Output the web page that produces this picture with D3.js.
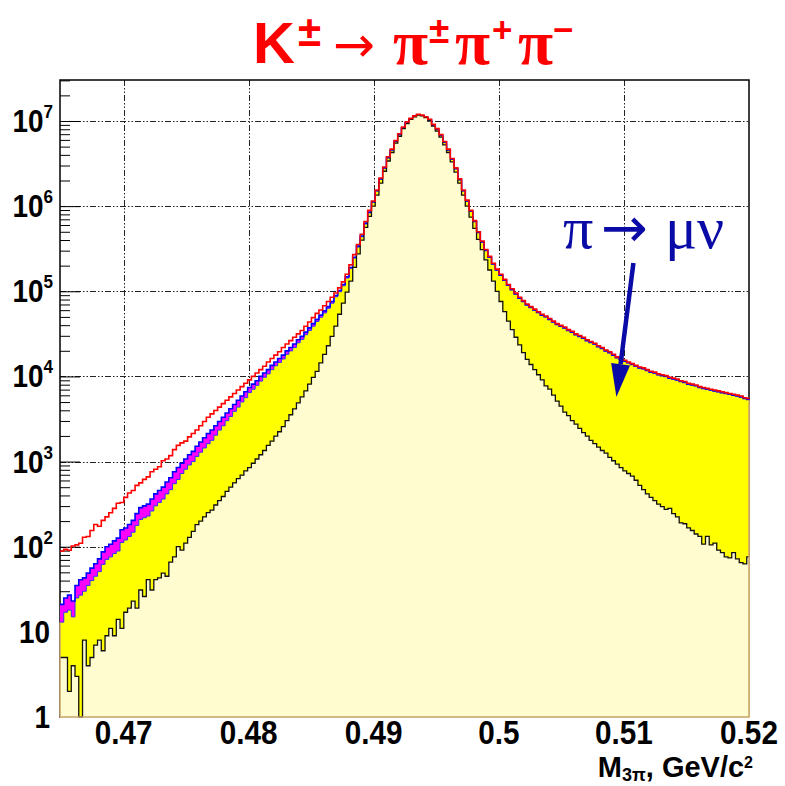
<!DOCTYPE html>
<html>
<head>
<meta charset="utf-8">
<script src="https://cdn.jsdelivr.net/npm/d3@7"></script>
<style>
  body { margin: 0; background: #fff; }
  svg { display: block; }
</style>
</head>
<body>
<div id="grafico"></div>
<script>
// Bins do histograma de M(3pi), GeV/c^2
const inicioBins = 0.46492;
const larguraBin = 0.0003;

// Dados (linha vermelha), contagem por bin
const dadosK3pi = [
  89, 93, 91, 102, 105, 110, 129, 132, 155, 182,
  174, 204, 224, 251, 282, 324, 331, 380, 427, 457,
  525, 562, 617, 661, 759, 813, 871, 1023, 1072, 1175,
  1380, 1549, 1660, 1738, 1950, 2138, 2344, 2630, 2951, 3311,
  3631, 3981, 4365, 4786, 5248, 5754, 6310, 6918, 7586, 8318,
  9120, 10000, 10960, 12020, 13180, 14790, 16220, 17780, 19500, 21880,
  23990, 26300, 28840, 31620, 34670, 38900, 43650, 48980, 54950, 60260,
  67610, 75860, 85110, 95500, 109600, 128800, 158500, 204200, 269200, 354800,
  467700, 660700, 891300, 1148000, 1549000, 2138000, 2884000, 3802000, 4677000, 5888000,
  7079000, 8511000, 9772000, 10720000, 11480000, 12020000, 11750000, 11220000, 10470000, 9120000,
  8128000, 6918000, 5754000, 4677000, 3631000, 2818000, 2089000, 1549000, 1175000, 891300,
  676100, 501200, 389000, 309000, 257000, 213800, 182000, 158500, 138000, 120200,
  107200, 95500, 85110, 77620, 70790, 66070, 61660, 57540, 53700, 51290,
  47860, 44670, 41690, 39810, 38020, 35480, 33880, 31620, 30200, 28840,
  26920, 25700, 24550, 22910, 21880, 20420, 19500, 18200, 16980, 16220,
  15490, 14790, 14130, 13490, 12880, 12590, 12020, 11480, 11220, 10720,
  10470, 10230, 9772, 9550, 9333, 8913, 8710, 8318, 8128, 7943,
  7586, 7413, 7244, 7079, 6918, 6761, 6607, 6457, 6310, 6166,
  6026, 5888, 5623, 5495
];

// MC total (contorno azul, magenta por baixo)
const mcTotal = [
  21, 25, 27, 23, 35, 41, 43, 49, 56, 63,
  72, 87, 100, 107, 117, 126, 158, 166, 182, 204,
  245, 288, 302, 316, 363, 417, 457, 501, 575, 646,
  759, 851, 955, 1072, 1202, 1318, 1514, 1698, 1905, 2138,
  2344, 2630, 2951, 3311, 3715, 4169, 4677, 5248, 5888, 6607,
  7413, 8128, 8913, 10000, 10960, 12020, 13490, 14790, 16220, 17780,
  19950, 21880, 23990, 26920, 29510, 33110, 37150, 41690, 46770, 52480,
  58880, 66070, 75860, 89130, 102300, 120200, 147900, 190500, 251200, 338800,
  446700, 631000, 851100, 1122000, 1514000, 2089000, 2818000, 3715000, 4571000, 5754000,
  6918000, 8318000, 9550000, 10470000, 11220000, 11750000, 11480000, 10960000, 10230000, 8913000,
  7943000, 6761000, 5623000, 4571000, 3548000, 2754000, 2042000, 1514000, 1148000, 871000,
  660700, 489800, 380200, 302000, 251200, 208900, 177800, 154900, 134900, 117500,
  104700, 93300, 83180, 75860, 69180, 64570, 60260, 56230, 52480, 50120,
  46770, 43650, 40740, 38900, 37150, 34670, 33110, 30900, 29510, 28180,
  26300, 25120, 23990, 22390, 21380, 19950, 19050, 17780, 16600, 15850,
  15140, 14450, 13800, 13180, 12590, 12300, 11750, 11220, 10960, 10470,
  10230, 10000, 9550, 9333, 9120, 8710, 8511, 8128, 7943, 7762,
  7413, 7244, 7079, 6918, 6761, 6607, 6457, 6310, 6166, 6026,
  5888, 5754, 5495, 5370
];

// K3pi + pi->mu nu (topo do amarelo); depois do bin 82 coincide com o MC total
const mcSemOutros = [
  13, 17, 18, 15, 25, 27, 30, 35, 40, 45,
  51, 62, 71, 76, 83, 89, 112, 120, 132, 148,
  178, 209, 219, 229, 263, 302, 331, 363, 417, 468,
  550, 617, 724, 813, 912, 1000, 1148, 1288, 1445, 1622,
  1778, 2042, 2344, 2630, 3020, 3388, 3890, 4365, 5012, 5623,
  6457, 7079, 7852, 8810, 9772, 10720, 12020, 13340, 14620, 16030,
  18200, 19950, 21880, 24830, 27230, 30900, 34670, 38900, 44160, 49550,
  55590, 63100, 72440, 86100, 98860, 116100, 142900, 186200, 245500, 331100,
  436500, 616600, 831800
];

// Sinal K3pi sem decaimento do pi (contorno preto, amarelo claro)
const mcSinal = [
  5, 5, 2, 4, 3, 0, 8, 4, 5, 7,
  8, 6, 9, 11, 9, 14, 11, 17, 19, 23,
  19, 31, 26, 41, 31, 41, 43, 49, 45, 66,
  76, 100, 91, 110, 129, 151, 182, 200, 224, 251,
  269, 309, 347, 389, 447, 501, 562, 631, 692, 776,
  851, 955, 1072, 1202, 1349, 1549, 1738, 1995, 2239, 2570,
  3020, 3548, 4169, 4898, 5754, 6761, 8128, 9772, 11480, 14450,
  18200, 22910, 29510, 38900, 53700, 72440, 97720, 131800, 190500, 275400,
  398100, 562300, 758600, 1000000, 1349000, 1862000, 2570000, 3388000, 4266000, 5495000,
  6607000, 8128000, 9333000, 10470000, 11220000, 11750000, 11480000, 10960000, 10000000, 8710000,
  7586000, 6457000, 5248000, 4266000, 3311000, 2512000, 1862000, 1349000, 1000000, 741300,
  549500, 407400, 309000, 234400, 177800, 131800, 100000, 75860, 57540, 44670,
  35480, 28840, 23440, 19050, 15850, 13800, 12020, 10470, 9120, 7762,
  7079, 6026, 5129, 4467, 3802, 3467, 3020, 2754, 2455, 2188,
  1995, 1778, 1622, 1479, 1349, 1259, 1122, 1023, 933, 851,
  776, 724, 676, 603, 525, 468, 417, 380, 347, 316,
  295, 275, 282, 245, 224, 191, 186, 166, 155, 141,
  132, 107, 132, 105, 110, 91, 85, 76, 74, 85,
  72, 65, 63, 76
];

// Eixos
const ticksX = [0.47, 0.48, 0.49, 0.5, 0.51, 0.52];
const rotulosX = ['0.47', '0.48', '0.49', '0.5', '0.51', '0.52'];
const decadasY = [1, 10, 1e2, 1e3, 1e4, 1e5, 1e6, 1e7];
const expoentesY = ['', '', '2', '3', '4', '5', '6', '7'];

// Seta da anotação (unidades do gráfico)
const setaInicio = [0.51076, 2.15e5];
const setaPonta = [0.5094, 5740];

// Dimensões
const largura = 785;
const altura = 786;
const esq = 60, dir = 749, topo = 80, base = 717;

const escalaX = d3.scaleLinear().domain([inicioBins, 0.52]).range([esq, dir]);
const escalaY = d3.scaleLog().domain([1, 3.03e7]).range([base, topo]).clamp(true);

const svg = d3.select('#grafico').append('svg')
  .attr('width', largura)
  .attr('height', altura);

svg.append('rect').attr('width', largura).attr('height', altura).attr('fill', '#fff');

// Grade tracejada
const grade = svg.append('g')
  .attr('stroke', '#222')
  .attr('stroke-width', 1)
  .attr('stroke-dasharray', '6,2,1.5,2,1.5,2');

grade.selectAll('.gx')
  .data(ticksX.filter(t => t < 0.52))
  .enter().append('line')
  .attr('x1', d => Math.round(escalaX(d)) + 0.5)
  .attr('x2', d => Math.round(escalaX(d)) + 0.5)
  .attr('y1', topo)
  .attr('y2', base);

grade.selectAll('.gy')
  .data(decadasY.slice(1))
  .enter().append('line')
  .attr('x1', esq)
  .attr('x2', dir)
  .attr('y1', d => Math.round(escalaY(d)) + 0.5)
  .attr('y2', d => Math.round(escalaY(d)) + 0.5);

// Ticks do eixo Y (para dentro)
let ticksMenores = [];
for (let d of decadasY) {
  for (let m = 2; m <= 9; m++) {
    if (d * m < 3.03e7) ticksMenores.push(d * m);
  }
}
const eixoMenor = d3.axisRight(escalaY).tickValues(ticksMenores).tickSize(10).tickFormat('');
const eixoMaior = d3.axisRight(escalaY).tickValues(decadasY).tickSize(20).tickFormat('');
svg.append('g').attr('transform', `translate(${esq},0)`).call(eixoMenor)
  .call(g => g.select('.domain').remove())
  .selectAll('line').attr('stroke', '#000');
svg.append('g').attr('transform', `translate(${esq},0)`).call(eixoMaior)
  .call(g => g.select('.domain').remove())
  .selectAll('line').attr('stroke', '#000');

// Moldura
svg.append('rect')
  .attr('x', esq).attr('y', topo)
  .attr('width', dir - esq).attr('height', base - topo)
  .attr('fill', 'none').attr('stroke', '#000').attr('stroke-width', 1.5);

// Pontos em degrau de um histograma
function pontos(serie) {
  let p = serie.map((v, i) => [inicioBins + i * larguraBin, v]);
  p.push([inicioBins + serie.length * larguraBin, serie[serie.length - 1]]);
  return p;
}

const area = d3.area()
  .curve(d3.curveStepAfter)
  .x(d => escalaX(d[0]))
  .y0(base + 1)
  .y1(d => escalaY(Math.max(d[1], 0.5)));

const linha = d3.line()
  .curve(d3.curveStepAfter)
  .x(d => escalaX(d[0]))
  .y(d => escalaY(Math.max(d[1], 0.5)));

svg.append('clipPath').attr('id', 'recorte')
  .append('rect').attr('x', esq).attr('y', topo)
  .attr('width', dir - esq + 0.5).attr('height', base - topo + 1);

const hist = svg.append('g').attr('clip-path', 'url(#recorte)');

const amarelo = mcTotal.map((v, i) => i < mcSemOutros.length ? mcSemOutros[i] : v);

// Magenta com contorno azul
hist.append('path').datum(pontos(mcTotal))
  .attr('d', area).attr('fill', '#ff00ff');
// Amarelo (pi -> mu nu)
hist.append('path').datum(pontos(amarelo))
  .attr('d', area).attr('fill', '#ffff00');
hist.append('path').datum(pontos(amarelo))
  .attr('d', linha).attr('fill', 'none').attr('stroke', '#3030ff').attr('stroke-width', 1);
hist.append('path').datum(pontos(mcTotal))
  .attr('d', linha).attr('fill', 'none').attr('stroke', '#0000ff').attr('stroke-width', 1.6);
// Sinal
hist.append('path').datum(pontos(mcSinal))
  .attr('d', area).attr('fill', '#fffccf');
hist.append('path').datum(pontos(mcSinal))
  .attr('d', linha).attr('fill', 'none').attr('stroke', '#111').attr('stroke-width', 1.3);
// Dados
hist.append('path').datum(pontos(dadosK3pi))
  .attr('d', linha).attr('fill', 'none').attr('stroke', '#ff0000').attr('stroke-width', 1.6);

// Borda cor de areia onde o preenchimento encosta na moldura
const bordaAreia = svg.append('g').attr('stroke', '#c9a56e').attr('stroke-width', 1.5).attr('fill', 'none');
bordaAreia.append('line').attr('x1', esq).attr('x2', dir).attr('y1', base).attr('y2', base);
bordaAreia.append('line').attr('x1', esq).attr('x2', esq)
  .attr('y1', base).attr('y2', escalaY(amarelo[0]));
bordaAreia.append('line').attr('x1', dir).attr('x2', dir)
  .attr('y1', base).attr('y2', escalaY(mcTotal[mcTotal.length - 1]) + 2);

// Rótulos do eixo Y
decadasY.forEach((d, i) => {
  let t = svg.append('text')
    .attr('transform', `translate(${expoentesY[i] ? 53 : 50},${escalaY(d) + 11}) scale(0.9,1)`)
    .attr('text-anchor', 'end')
    .attr('font-family', 'Liberation Sans, Arial, sans-serif')
    .attr('font-weight', 'bold')
    .attr('font-size', 31)
    .attr('fill', '#000');
  t.append('tspan').text(d === 1 ? '1' : '10');
  if (expoentesY[i]) {
    t.append('tspan').attr('font-size', 19).attr('dy', -14).text(expoentesY[i]);
  }
});

// Rótulos do eixo X
svg.selectAll('.rx')
  .data(ticksX)
  .enter().append('text')
  .attr('transform', d => `translate(${escalaX(d)},744) scale(0.9,1)`)
  .attr('text-anchor', 'middle')
  .attr('font-family', 'Liberation Sans, Arial, sans-serif')
  .attr('font-weight', 'bold')
  .attr('font-size', 33)
  .attr('fill', '#000')
  .text((d, i) => rotulosX[i]);

// Título do eixo X
let tituloX = svg.append('text')
  .attr('x', 753).attr('y', 777)
  .attr('text-anchor', 'end')
  .attr('font-family', 'Liberation Sans, Arial, sans-serif')
  .attr('font-weight', 'bold')
  .attr('font-size', 29)
  .attr('fill', '#000');
tituloX.append('tspan').text('M');
tituloX.append('tspan').attr('font-size', 18).attr('dy', 4).text('3π');
tituloX.append('tspan').attr('dy', -4).text(', GeV/c');
tituloX.append('tspan').attr('font-size', 16).attr('dy', -9).text('2');

// Título principal
const serif = 'Liberation Serif, Times New Roman, serif';
const sans = 'Liberation Sans, Arial, sans-serif';
let titulo = svg.append('text').attr('fill', '#ff0000');
titulo.append('tspan').attr('x', 253).attr('y', 63).attr('font-family', sans).attr('font-weight', 'bold').attr('font-size', 58).text('K');
titulo.append('tspan').attr('x', 298).attr('y', 46).attr('font-family', sans).attr('font-weight', 'bold').attr('font-size', 42).text('±');
titulo.append('tspan').attr('x', 333).attr('y', 62).attr('font-family', 'DejaVu Sans, sans-serif').attr('font-size', 50).text('→');
titulo.append('tspan').attr('x', 393).attr('y', 64).attr('font-family', serif).attr('font-weight', 'bold').attr('font-size', 64).text('π');
titulo.append('tspan').attr('x', 429).attr('y', 43).attr('font-family', sans).attr('font-weight', 'bold').attr('font-size', 37).text('±');
titulo.append('tspan').attr('x', 455).attr('y', 64).attr('font-family', serif).attr('font-weight', 'bold').attr('font-size', 64).text('π');
titulo.append('tspan').attr('x', 492).attr('y', 42).attr('font-family', sans).attr('font-weight', 'bold').attr('font-size', 35).text('+');
titulo.append('tspan').attr('x', 518).attr('y', 64).attr('font-family', serif).attr('font-weight', 'bold').attr('font-size', 64).text('π');
titulo.append('tspan').attr('x', 553).attr('y', 42).attr('font-family', sans).attr('font-weight', 'bold').attr('font-size', 35).text('−');

// Anotação pi -> mu nu
const azul = '#0a0aa6';
let anot = svg.append('text').attr('fill', azul);
anot.append('tspan').attr('x', 563).attr('y', 248).attr('font-family', serif).attr('font-size', 60).text('π');
anot.append('tspan').attr('x', 601).attr('y', 247).attr('font-family', 'DejaVu Sans, sans-serif').attr('font-size', 56).text('→');
anot.append('tspan').attr('x', 665).attr('y', 248).attr('font-family', serif).attr('font-size', 60).text('μ');
anot.append('tspan').attr('x', 697).attr('y', 248).attr('font-family', serif).attr('font-size', 60).text('ν');

// Seta grossa
const x1 = escalaX(setaInicio[0]), y1 = escalaY(setaInicio[1]);
const x2 = escalaX(setaPonta[0]), y2 = escalaY(setaPonta[1]);
const ang = Math.atan2(y2 - y1, x2 - x1);
const compCabeca = 33, meiaLarg = 9.5;
const bx = x2 - compCabeca * Math.cos(ang);
const by = y2 - compCabeca * Math.sin(ang);
svg.append('line')
  .attr('x1', x1).attr('y1', y1).attr('x2', bx).attr('y2', by)
  .attr('stroke', azul).attr('stroke-width', 4.5);
svg.append('polygon')
  .attr('points', [
    [x2, y2],
    [bx + meiaLarg * Math.sin(ang), by - meiaLarg * Math.cos(ang)],
    [bx - meiaLarg * Math.sin(ang), by + meiaLarg * Math.cos(ang)]
  ].map(p => p.join(',')).join(' '))
  .attr('fill', azul);
</script>
</body>
</html>
